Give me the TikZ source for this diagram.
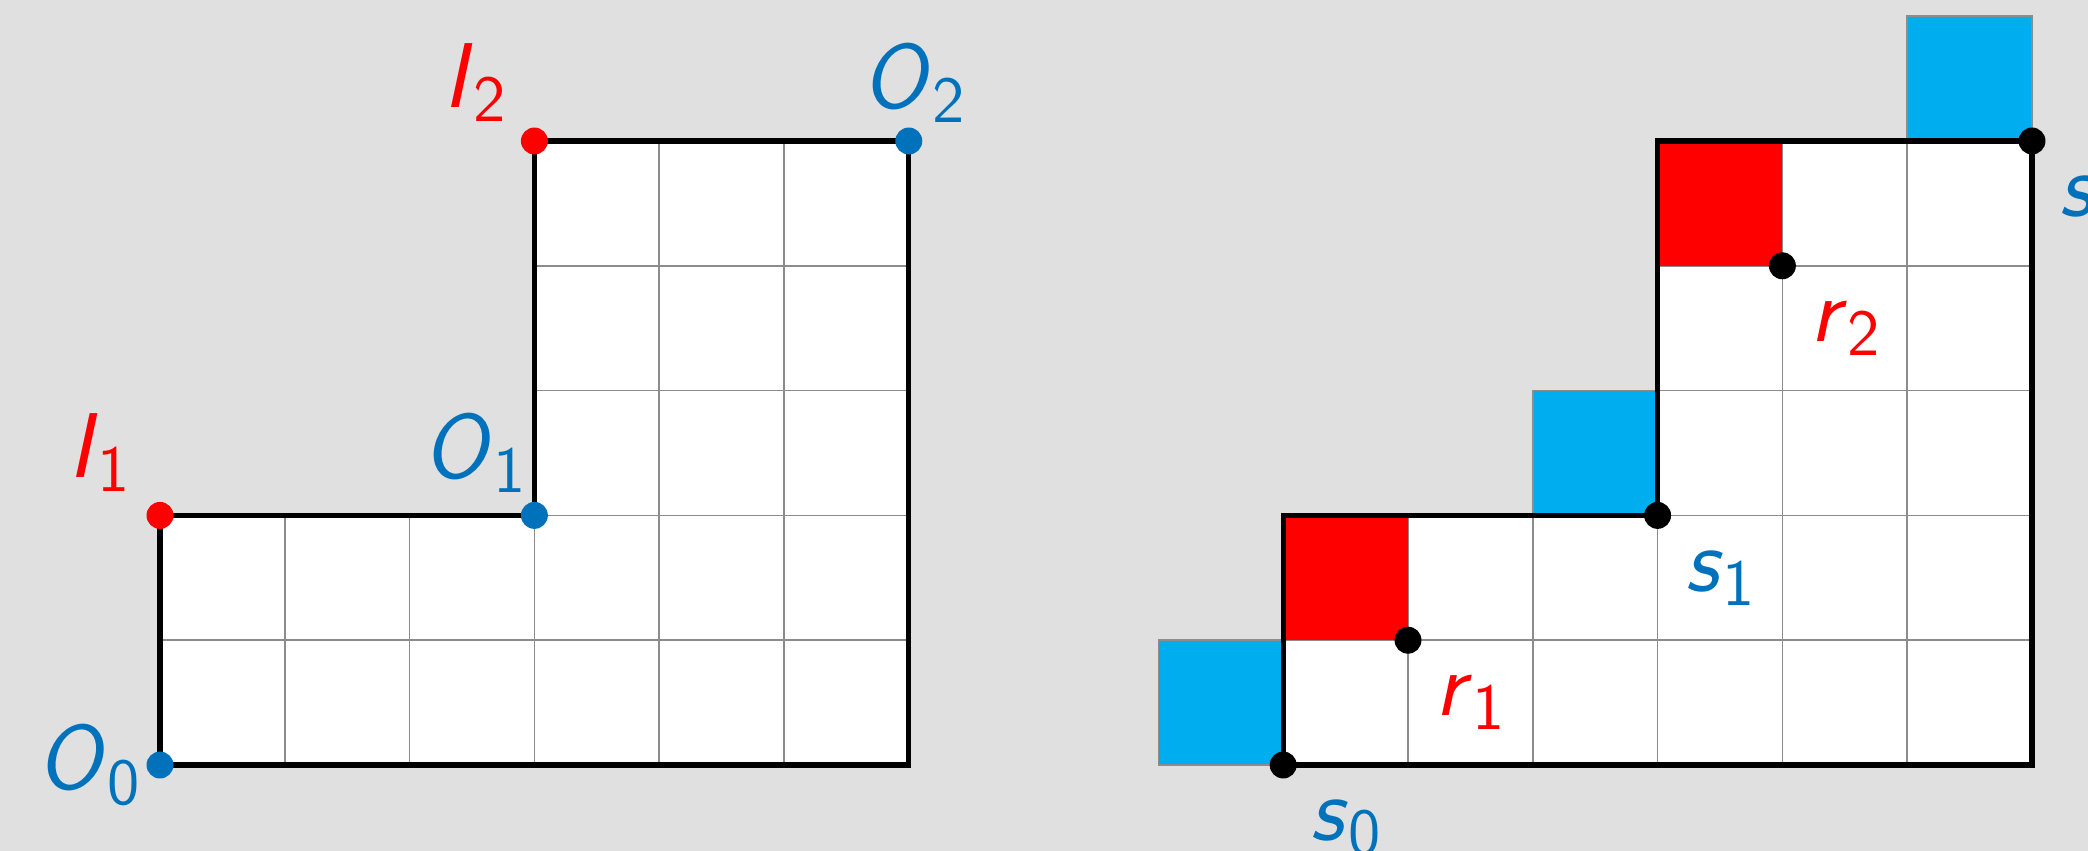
\documentclass[tikz,border=0pt]{standalone}
\usetikzlibrary{positioning}
\definecolor{slidebg}{RGB}{224,224,224}
\definecolor{ptblue}{RGB}{0,114,188}
\definecolor{ptred}{RGB}{255,0,0}
\definecolor{cellblue}{RGB}{0,173,239}
\definecolor{gridgray}{RGB}{140,140,140}
\newcommand{\ptname}[2]{\textit{#1}\raisebox{-3.2pt}{\fontsize{15}{15}\selectfont #2}}

\begin{document}
\begin{tikzpicture}[
    dot/.style={circle, fill=#1, inner sep=0pt, minimum size=2.16mm},
    ptlabel/.style={text=#1, font=\sffamily\fontsize{21}{21}\selectfont, inner sep=0pt},
    gridline/.style={draw=gridgray, line width=0.4pt},
    outline/.style={draw=black, line width=1.2pt},
    cellbox/.style={fill=#1, draw=gridgray, line width=0.4pt}
  ]
  % slide background and page size
  \fill[slidebg] (-1.282,-0.689) rectangle (15.449,6.130);
  \useasboundingbox (-1.282,-0.689) rectangle (15.449,6.130);

  % the two staircase regions with their grids
  \foreach \dx in {0,9} {
    \begin{scope}[xshift=\dx cm]
      \fill[white] (0,0) -- (6,0) -- (6,5) -- (3,5) -- (3,2) -- (0,2) -- cycle;
      \begin{scope}
        \clip (0,0) -- (6,0) -- (6,5) -- (3,5) -- (3,2) -- (0,2) -- cycle;
        \draw[gridline] (0,0) grid (6,5);
      \end{scope}
    \end{scope}
  }

  % coloured cells of the right region
  \fill[ptred] (9,1) rectangle (10,2);
  \fill[ptred] (12,4) rectangle (13,5);
  \foreach \cx/\cy in {8/0, 11/2, 14/5}
    \draw[cellbox=cellblue] (\cx,\cy) rectangle ++(1,1);

  \foreach \dx in {0,9}
    \draw[outline, xshift=\dx cm] (0,0) -- (6,0) -- (6,5) -- (3,5) -- (3,2) -- (0,2) -- cycle;

  % left: corner points
  \node[dot=ptblue] (o0) at (0,0) {};
  \node[dot=ptblue] (o1) at (3,2) {};
  \node[dot=ptblue] (o2) at (6,5) {};
  \node[dot=ptred] (i1) at (0,2) {};
  \node[dot=ptred] (i2) at (3,5) {};

  \node[ptlabel=ptblue] (o0lbl) at (-0.57,0) {\ptname{O}{0}};
  \node[ptlabel=ptblue] (o1lbl) at (2.52,2.5) {\ptname{O}{1}};
  \node[ptlabel=ptblue] (o2lbl) at (6.04,5.47) {\ptname{O}{2}};
  \node[ptlabel=ptred] (i1lbl) at (-0.49,2.5) {\ptname{I}{1}};
  \node[ptlabel=ptred] (i2lbl) at (2.52,5.47) {\ptname{I}{2}};

  % right: corner points
  \node[dot=black] (s0) at (9,0) {};
  \node[dot=black] (r1) at (10,1) {};
  \node[dot=black] (s1) at (12,2) {};
  \node[dot=black] (r2) at (13,4) {};
  \node[dot=black] (s2) at (15,5) {};

  \node[ptlabel=ptblue] (s0lbl) at (9.5,-0.5) {\ptname{s}{0}};
  \node[ptlabel=ptblue] (s1lbl) at (12.5,1.5) {\ptname{s}{1}};
  \node[ptlabel=ptblue] (s2lbl) at (15.5,4.5) {\ptname{s}{2}};
  \node[ptlabel=ptred] (r1lbl) at (10.5,0.5) {\ptname{r}{1}};
  \node[ptlabel=ptred] (r2lbl) at (13.5,3.5) {\ptname{r}{2}};
\end{tikzpicture}
\end{document}
